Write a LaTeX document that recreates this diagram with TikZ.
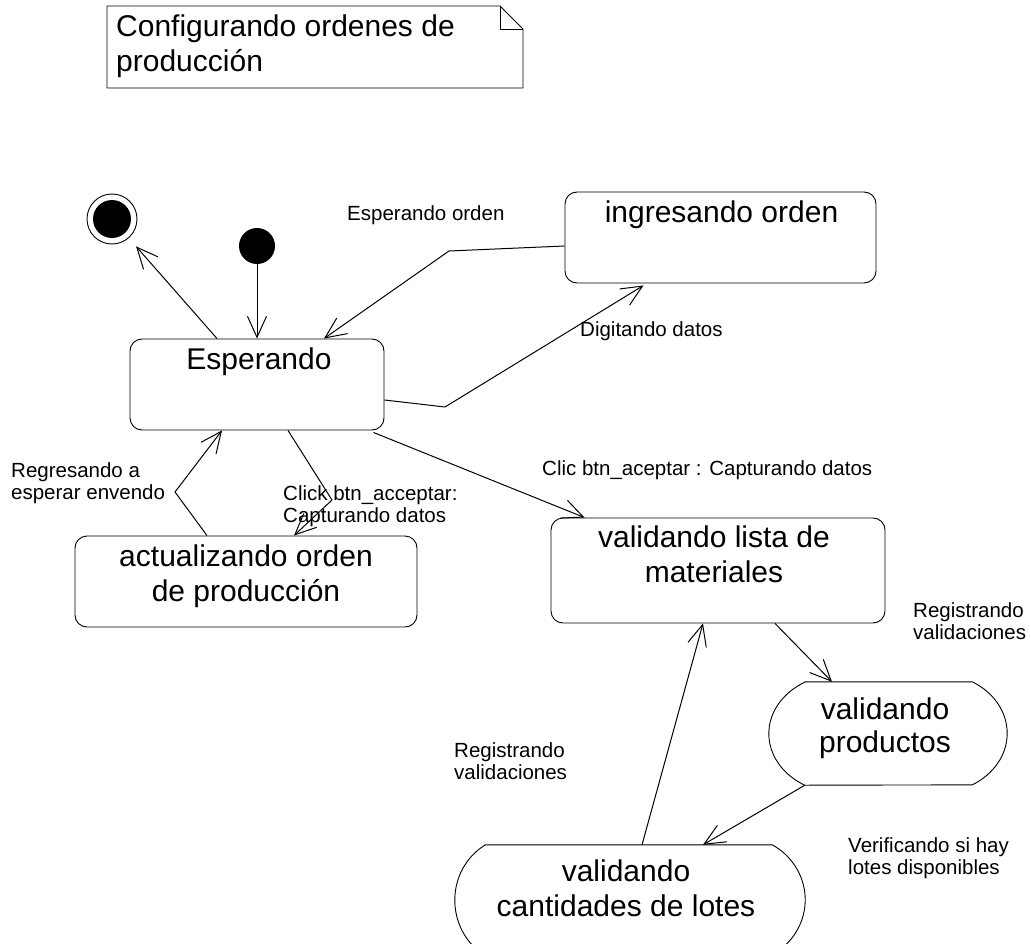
\documentclass[tikz,border=0pt]{standalone}
\usepackage{fontspec}
\setmainfont{Liberation Sans}
\usetikzlibrary{arrows.meta,calc}

% text sizes used in the state chart
\newcommand\bigtext{\fontsize{30}{35}\selectfont}
\newcommand\smalltext{\fontsize{20.5}{22}\selectfont}
% stacked lines whose first baseline is the node's base
\newcommand\rows[2]{\begin{tabular}[t]{@{}#1@{}}#2\end{tabular}}

\begin{document}
\begin{tikzpicture}[x=1pt, y=-1pt, line join=round,
  outline/.style={line width=0.9pt},
  stbox/.style={draw, line width=0.9pt, rounded corners=12pt, inner sep=0pt},
  frame/.style={draw=none, inner sep=0pt},
  big/.style={font=\bigtext, inner sep=0pt, anchor=base},
  small/.style={font=\smalltext, inner sep=0pt, anchor=base west},
  flow/.style={line width=1pt, -{Straight Barb[length=21pt,width=19pt]}}]

\useasboundingbox (0,0) rectangle (1030,944);
\fill[white] (0,0) rectangle (1030,944);
\clip (0,0) rectangle (1030,944);

% note with folded corner
\draw[outline] (107,6) -- (500,6) -- (523,29) -- (523,88) -- (107,88) -- cycle;
\draw[outline] (500,6) -- (500,29) -- (523,29);
\node[big, anchor=base west] (notetxt) at (116,37)
  {\rows{l}{Configurando ordenes de\\producción}};

% pseudo states
\node[circle, fill, minimum size=36pt, inner sep=0pt] (ini) at (257,246) {};
\node[circle, draw, line width=0.9pt, minimum size=50pt, inner sep=0pt,
  path picture={\fill (path picture bounding box.center) circle (19pt);}]
  (fin) at (112,219) {};

% states
\node[stbox, minimum width=254, minimum height=91] (esp) at (257,384.5) {};
\node[big] (esptxt) at ($(esp.north)+(2,31)$) {Esperando};

\node[stbox, minimum width=311, minimum height=91] (ing) at (720.5,237.5) {};
\node[big] (ingtxt) at ($(ing.north)+(1,31)$) {ingresando orden};

\node[stbox, minimum width=342, minimum height=91] (act) at (246,581.5) {};
\node[big] (acttxt) at ($(act.north)+(0,31)$)
  {\rows{c}{actualizando orden\\de producción}};

\node[stbox, minimum width=334, minimum height=105] (lista) at (718,570.5) {};
\node[big] (listatxt) at ($(lista.north)+(-4,30)$)
  {\rows{c}{validando lista de\\materiales}};

% activity states
\node[frame, minimum width=238, minimum height=103] (prod) at (888,733.5) {};
\draw[outline] ($(prod.north west)+(36,0)$) -- ($(prod.north east)+(-35,0)$)
  arc[start angle=-60, end angle=60, x radius=70, y radius=59.5]
  -- ($(prod.south west)+(36,0)$)
  arc[start angle=120, end angle=240, x radius=72, y radius=59.5] -- cycle;
\node[big] (prodtxt) at ($(prod.north)+(-3,38)$)
  {\rows{c}{validando\\[-2pt]productos}};

\node[frame, minimum width=350, minimum height=110] (cant) at (630,900) {};
\draw[outline] ($(cant.north west)+(30,0)$) -- ($(cant.north east)+(-33,0)$)
  arc[start angle=-60, end angle=60, x radius=66, y radius=63.5]
  -- ($(cant.south west)+(30,0)$)
  arc[start angle=120, end angle=240, x radius=60, y radius=63.5] -- cycle;
\node[big] (canttxt) at ($(cant.north)+(-4,37)$)
  {\rows{c}{validando\\cantidades de lotes}};

% bend points
\coordinate (b1) at (449,251);
\coordinate (b2) at (445,407);
\coordinate (b3) at (332,500);
\coordinate (b4) at (175,492);

% transitions
\draw[flow] (ini) -- (esp);
\draw[flow, shorten >=11pt] ($(esp.north)+(-40,0)$) -- (fin);
\draw[flow] ($(ing.west)+(0,8.5)$) -- (b1) -- ($(esp.north)+(67,0)$);
\draw[flow] ($(esp.east)+(0,15.5)$) -- (b2) -- ($(ing.south)+(-77,2)$);
\draw[flow] ($(esp.south)+(31,0)$) -- (b3) -- ($(act.north)+(48,0)$);
\draw[flow] ($(act.north)+(-39,0)$) -- (b4) -- ($(esp.south)+(-35,0)$);
\draw[flow] ($(esp.south east)+(-11,2)$) -- ($(lista.north west)+(34,0)$);
\draw[flow] ($(lista.south)+(57,0)$) -- ($(prod.north)+(-56,0)$);
\draw[flow] ($(prod.south west)+(36,0)$) -- ($(cant.north)+(73,0)$);
\draw[flow] ($(cant.north)+(12,0)$) -- ($(lista.south)+(-15,0)$);

% transition labels
\node[small] (l1) at (347,220) {Esperando orden};
\node[small] (l2) at (580,336) {Digitando datos};
\node[small] (l3) at (11,477) {\rows{l}{Regresando a\\esperar envendo}};
\node[small] (l4) at (283,500) {\rows{l}{Click btn\_acceptar:\\Capturando datos}};
\node[small] (l5) at (542,475) {Clic btn\_aceptar : Capturando datos};
\node[small] (l6) at (913,617) {\rows{l}{Registrando\\validaciones}};
\node[small] (l7) at (454,757) {\rows{l}{Registrando\\validaciones}};
\node[small] (l8) at (848,852) {\rows{l}{Verificando si hay\\lotes disponibles}};
\end{tikzpicture}
\end{document}
